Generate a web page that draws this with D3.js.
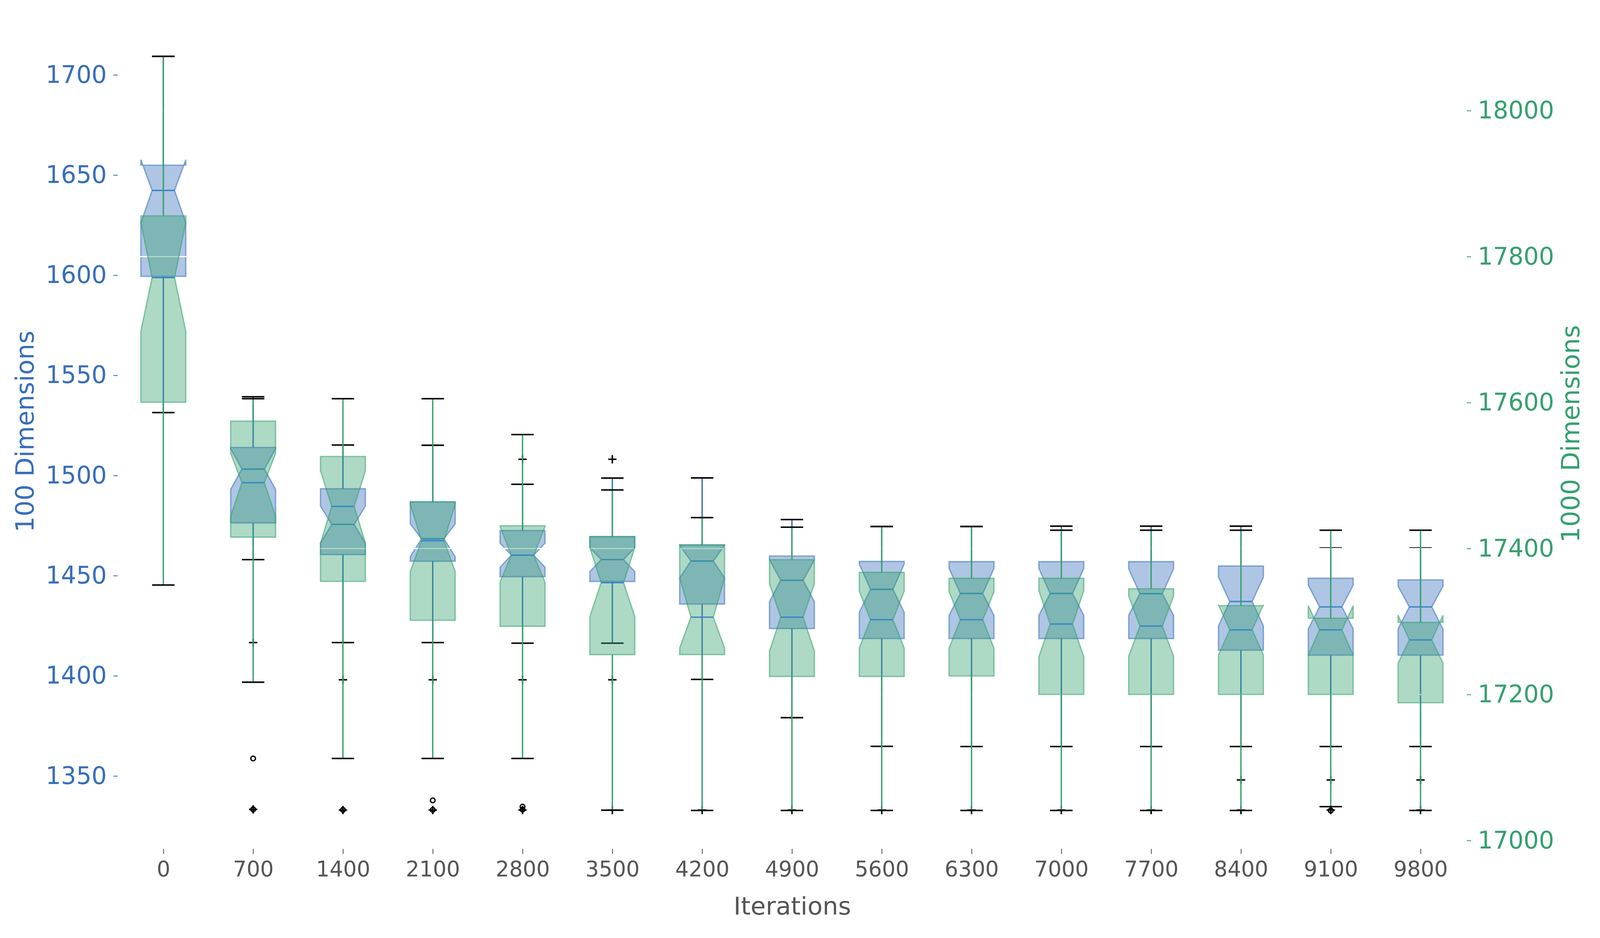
<!DOCTYPE html>
<html>
<head>
<meta charset="utf-8">
<script src="https://cdn.jsdelivr.net/npm/d3@7"></script>
<style>
  html, body { margin: 0; padding: 0; background: #fff; overflow: hidden; }
  #chart { display: block; }
  text { font-family: "DejaVu Sans", sans-serif; }
</style>
</head>
<body>
<svg id="chart"></svg>
<script>
// iterations on the x axis
var iterations = [0, 700, 1400, 2100, 2800, 3500, 4200, 4900, 5600, 6300, 7000, 7700, 8400, 9100, 9800];

// 100 dimensions (left axis)
var q1_100    = [1599.4, 1476.3, 1460.5, 1457.2, 1449.5, 1447.1, 1435.8, 1423.6, 1418.6, 1418.6, 1418.6, 1418.6, 1412.8, 1410.3, 1410.3];
var med_100   = [1642.3, 1503.2, 1475.6, 1468.4, 1460.2, 1458.0, 1457.3, 1447.7, 1443.2, 1441.1, 1441.1, 1441.0, 1437.1, 1434.4, 1434.4];
var q3_100    = [1654.9, 1514.0, 1493.4, 1486.8, 1472.5, 1469.5, 1465.3, 1459.8, 1457.1, 1457.0, 1457.0, 1457.0, 1454.8, 1448.7, 1447.9];
var cilo_100  = [1626.1, 1493.1, 1466.2, 1459.5, 1454.2, 1452.0, 1448.9, 1437.0, 1431.7, 1430.2, 1430.2, 1430.2, 1425.0, 1423.4, 1423.4];
var cihi_100  = [1657.6, 1513.3, 1484.7, 1475.9, 1466.2, 1464.0, 1465.1, 1457.9, 1455.8, 1453.6, 1453.6, 1453.4, 1449.2, 1445.3, 1444.7];
var lo_100    = [1531.4, 1458.0, 1416.6, 1416.6, 1416.3, 1416.3, 1398.2, 1379.1, 1364.8, 1364.7, 1364.7, 1364.7, 1364.7, 1364.7, 1364.7];
var hi_100    = [1709.2, 1539.3, 1515.2, 1515.1, 1495.6, 1498.7, 1498.8, 1478.0, 1474.5, 1474.5, 1474.7, 1474.7, 1474.7, 1463.8, 1463.8];
var out_100   = [[], [1416.6, 1333.3], [1398.0, 1333.0], [1398.0, 1333.0], [1508.1, 1398.0, 1333.0], [1508.1, 1398.0, 1333.0],
                 [1333.0], [1333.0], [1333.0], [1333.0], [1333.0], [1333.0], [1348.0, 1333.0], [1348.0, 1333.0], [1348.0, 1333.0]];

// 1000 dimensions (right axis)
var q1_1000   = [17600.4, 17415.6, 17355.0, 17301.7, 17293.5, 17254.6, 17254.7, 17224.8, 17224.8, 17225.4, 17200.1, 17200.1, 17200.1, 17200.1, 17188.7];
var med_1000  = [17771.3, 17490.2, 17457.8, 17410.7, 17391.0, 17353.3, 17306.0, 17306.0, 17302.6, 17302.5, 17296.6, 17293.8, 17288.6, 17288.6, 17274.8];
var q3_1000   = [17855.8, 17574.6, 17526.2, 17463.9, 17431.2, 17416.4, 17405.1, 17384.6, 17367.4, 17359.3, 17359.3, 17344.9, 17321.8, 17304.6, 17298.8];
var cilo_1000 = [17698.0, 17444.3, 17407.4, 17368.5, 17354.1, 17307.0, 17263.7, 17259.6, 17263.7, 17263.4, 17251.7, 17252.3, 17254.2, 17254.2, 17243.1];
var cihi_1000 = [17846.4, 17530.4, 17506.6, 17460.7, 17430.0, 17401.3, 17360.0, 17351.8, 17341.6, 17340.9, 17342.4, 17334.8, 17323.0, 17321.8, 17308.6];
var lo_1000   = [17350.0, 17216.9, 17112.4, 17112.4, 17112.4, 17041.5, 17041.2, 17041.2, 17041.2, 17041.2, 17041.2, 17041.2, 17041.2, 17046.4, 17041.2];
var hi_1000   = [18074.4, 17605.3, 17605.3, 17605.3, 17556.2, 17480.3, 17442.4, 17429.3, 17430.3, 17430.3, 17425.1, 17425.1, 17425.1, 17425.1, 17425.1];
var out_1000  = [[], [17112.4, 17042.7], [17041.9], [17055.0, 17042.0], [17046.4, 17042.3], [], [], [], [], [], [], [], [], [17041.1], []];

var ticks100  = [1350, 1400, 1450, 1500, 1550, 1600, 1650, 1700];
var ticks1000 = [17000, 17200, 17400, 17600, 17800, 18000];

var blue = "#376ebc", green = "#35a06e", medCol = "#3385c6", grey = "#555555";

// layout is laid out for 4800x2400 and fitted to whatever the window gives
var W = window.innerWidth || 4800, H = window.innerHeight || 2400;
var sx = W / 4800, sy = H / 2400, f = Math.min(sx, sy);

var svg = d3.select("#chart").attr("width", W).attr("height", H);
svg.append("rect").attr("width", W).attr("height", H).attr("fill", "#fff");

var x = d3.scalePoint().domain(iterations).range([490 * sx, 4261.6 * sx]);
var step = x.step();
var boxHalf = step * 0.25, notchHalf = step * 0.125, capHalf = step * 0.125;
var left = x(0) - step / 2, right = x(9800) + step / 2, bottom = 2172 * sy;

var yL = d3.scaleLinear().domain([1313.6, 1715.9]).range([bottom, 110 * sy]);
var yR = d3.scaleLinear().domain([16988.5, 18092.7]).range([bottom, 110 * sy]);

function makeStats(q1, med, q3, cilo, cihi, lo, hi, out) {
    return iterations.map(function (it, i) {
        return {it: it, q1: q1[i], med: med[i], q3: q3[i], cilo: cilo[i], cihi: cihi[i], lo: lo[i], hi: hi[i], out: out[i]};
    });
}

var s100 = makeStats(q1_100, med_100, q3_100, cilo_100, cihi_100, lo_100, hi_100, out_100);
var s1000 = makeStats(q1_1000, med_1000, q3_1000, cilo_1000, cihi_1000, lo_1000, hi_1000, out_1000);

function drawBoxes(g, stats, y, col, marker) {
    var m = 12.5 * f;
    stats.forEach(function (d) {
        var cx = x(d.it);
        var L = cx - boxHalf, R = cx + boxHalf, nL = cx - notchHalf, nR = cx + notchHalf;
        // box with notch
        var pts = [[L, d.q1], [R, d.q1], [R, d.cilo], [nR, d.med], [R, d.cihi], [R, d.q3],
                   [L, d.q3], [L, d.cihi], [nL, d.med], [L, d.cilo], [L, d.q1]];
        g.append("path")
            .attr("d", d3.line()(pts.map(function (p) { return [p[0], y(p[1])]; })) + "Z")
            .attr("fill", col).attr("fill-opacity", 0.4)
            .attr("stroke", col).attr("stroke-opacity", 0.55).attr("stroke-width", 4 * f);
        // whiskers
        g.append("line").attr("x1", cx).attr("x2", cx).attr("y1", y(d.q1)).attr("y2", y(d.lo))
            .attr("stroke", col).attr("stroke-width", 4 * f);
        g.append("line").attr("x1", cx).attr("x2", cx).attr("y1", y(d.q3)).attr("y2", y(d.hi))
            .attr("stroke", col).attr("stroke-width", 4 * f);
        // caps
        [d.lo, d.hi].forEach(function (v) {
            g.append("line").attr("x1", cx - capHalf).attr("x2", cx + capHalf)
                .attr("y1", y(v)).attr("y2", y(v))
                .attr("stroke", "#000").attr("stroke-width", 4.5 * f);
        });
        // median
        g.append("line").attr("x1", nL).attr("x2", nR).attr("y1", y(d.med)).attr("y2", y(d.med))
            .attr("stroke", medCol).attr("stroke-width", 4 * f);
        // fliers
        d.out.forEach(function (v) {
            if (marker === "+") {
                g.append("path")
                    .attr("d", "M" + (cx - m) + "," + y(v) + "H" + (cx + m) + "M" + cx + "," + (y(v) - m) + "V" + (y(v) + m))
                    .attr("stroke", "#000").attr("stroke-width", 4.5 * f).attr("fill", "none");
            } else {
                g.append("circle").attr("cx", cx).attr("cy", y(v)).attr("r", 7 * f)
                    .attr("fill", "none").attr("stroke", "#000").attr("stroke-width", 4 * f);
            }
        });
    });
}

// first axes: 100 dimensions
drawBoxes(svg.append("g"), s100, yL, blue, "+");

// twin axes grid (white) sits above the first axes
svg.append("g").selectAll("line").data(ticks1000).enter().append("line")
    .attr("x1", left).attr("x2", right)
    .attr("y1", function (d) { return yR(d); }).attr("y2", function (d) { return yR(d); })
    .attr("stroke", "#fff").attr("stroke-width", 3.5 * f);

// twin axes: 1000 dimensions
drawBoxes(svg.append("g"), s1000, yR, green, "o");

// axes
function styleAxis(g, col, size) {
    g.select(".domain").remove();
    g.selectAll(".tick line").attr("stroke", col).attr("stroke-width", 2.5 * f);
    g.selectAll(".tick text").attr("fill", col).attr("font-size", size * f)
        .attr("font-family", "DejaVu Sans");
}

var axL = svg.append("g").attr("transform", "translate(" + (left - 2 * sx) + ",0)")
    .call(d3.axisLeft(yL).tickValues(ticks100).tickSize(13 * sx).tickPadding(20 * sx).tickFormat(d3.format("d")));
styleAxis(axL, blue, 72);

var axR = svg.append("g").attr("transform", "translate(" + (right + 4 * sx) + ",0)")
    .call(d3.axisRight(yR).tickValues(ticks1000).tickSize(13 * sx).tickPadding(20 * sx).tickFormat(d3.format("d")));
styleAxis(axR, green, 72);

var axB = svg.append("g").attr("transform", "translate(0," + bottom + ")")
    .call(d3.axisBottom(x).tickSize(13 * sy).tickPadding(18 * sy));
styleAxis(axB, grey, 64);

// axis labels
svg.append("text").attr("transform", "translate(" + (101 * sx) + "," + (1104 * sy) + ") rotate(-90)")
    .attr("text-anchor", "middle").attr("font-size", 75 * f).attr("fill", blue).text("100 Dimensions");
svg.append("text").attr("transform", "translate(" + (4738 * sx) + "," + (1110 * sy) + ") rotate(-90)")
    .attr("text-anchor", "middle").attr("font-size", 75 * f).attr("fill", green).text("1000 Dimensions");
svg.append("text").attr("x", 2377 * sx).attr("y", 2340 * sy)
    .attr("text-anchor", "middle").attr("font-size", 74 * f).attr("fill", grey).text("Iterations");
</script>
</body>
</html>
